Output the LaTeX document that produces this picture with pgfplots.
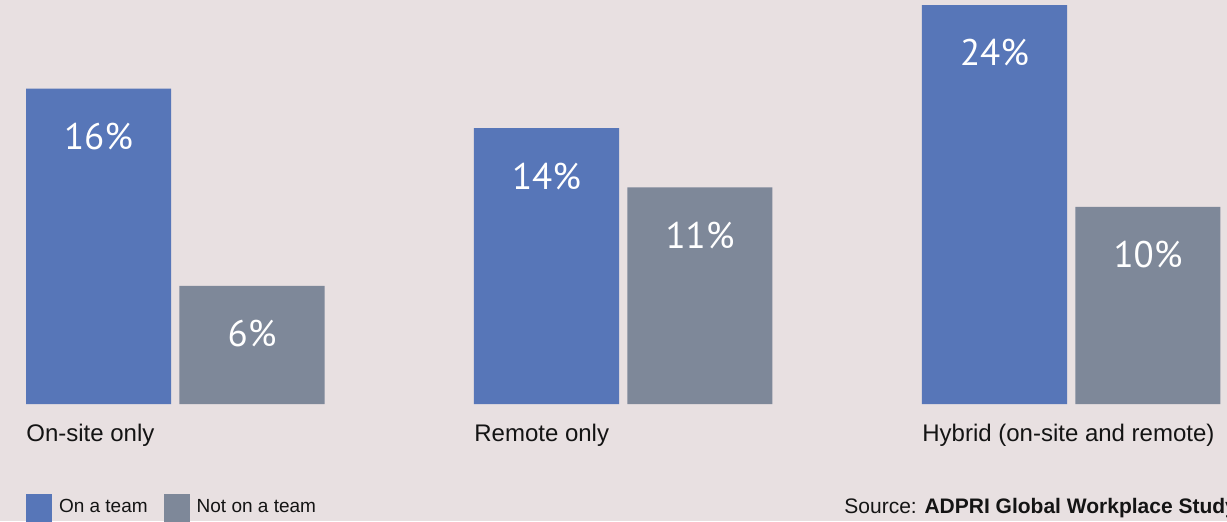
\documentclass[border=0pt]{standalone}
\usepackage{fontspec}
\setmainfont{Liberation Sans}
\newfontfamily\numfont{PT Sans}
\usepackage{pgfplots}
\usepackage{pgfplotstable}
\pgfplotsset{compat=1.18}
\definecolor{bgC}{RGB}{232,224,225}
\definecolor{blueC}{RGB}{87,118,184}
\definecolor{grayC}{RGB}{126,136,153}
\definecolor{txtC}{RGB}{20,20,20}
\pgfplotstableread{
x onteam notteam
0 16 6
1 14 11
2 24 10
}\datatable
\begin{document}
\begin{tikzpicture}
\fill[bgC] (0,0) rectangle (613.5pt,260.5pt);
\begin{axis}[
  at={(0pt,58.5pt)}, anchor=south west,
  scale only axis, width=613.5pt, height=199.5pt,
  ybar, bar width=0.3237,
  xmin=-0.3912, xmax=2.3477, ymin=0, ymax=20.25,
  axis line style={draw=none},
  major tick length=0pt,
  ytick=\empty,
  xtick={-0.3332,0.6668,1.6668},
  xticklabels={On-site only, Remote only, Hybrid (on-site and remote)},
  xticklabel style={anchor=north west, inner sep=0pt, yshift=-10pt, font=\fontsize{12}{14}\selectfont, text=txtC},
  legend columns=2,
  legend style={at={(0.0212,-0.2256)}, anchor=north west, draw=none, fill=none,
    inner sep=0pt, outer sep=0pt, font=\fontsize{9.5}{11}\selectfont, text=txtC,
    nodes={inner sep=0pt},
    /tikz/every odd column/.append style={column sep=3.5pt},
    /tikz/every even column/.append style={column sep=8pt}},
  legend image code/.code={\fill[#1] (0pt,-9pt) rectangle (13pt,6.5pt);},
  /pgf/number format/assume math mode=true,
  nodes near coords={\pgfmathprintnumber{\pgfplotspointmeta}\%},
  nodes near coords style={anchor=center, yshift=-24pt, text=white, font=\numfont\fontsize{18.5}{20}\selectfont},
]
\addplot[bar shift=-0.1713, fill=blueC, draw=none,
  y filter/.expression={min(y,20.25)}, point meta=rawy]
  table[x=x, y=onteam]{\datatable};
\addlegendentry{On a team}
\addplot[bar shift=0.1713, fill=grayC, draw=none,
  y filter/.expression={min(y,20.25)}, point meta=rawy]
  table[x=x, y=notteam]{\datatable};
\addlegendentry{Not on a team}
\end{axis}
\node[anchor=west, inner sep=0pt, text=txtC, font=\fontsize{10.5}{12}\selectfont] at (422pt,6.5pt) {Source: \textbf{ADPRI Global Workplace Study}};
\pgfresetboundingbox
\useasboundingbox (0,0) rectangle (613.5pt,260.5pt);
\end{tikzpicture}
\end{document}
